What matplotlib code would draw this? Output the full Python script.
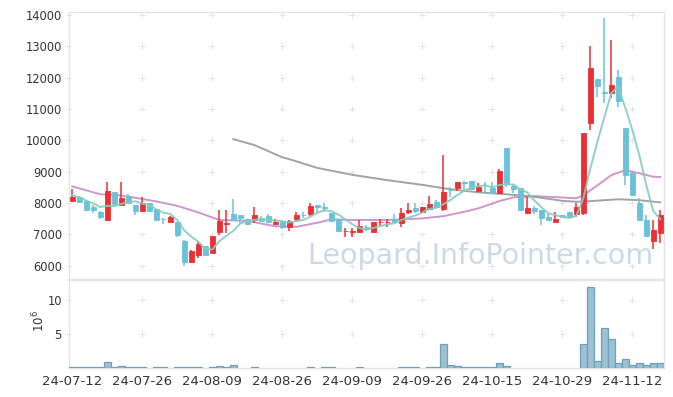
import numpy as np
import matplotlib
matplotlib.use('Agg')
import matplotlib.pyplot as plt

# daily candles (index = trading day)
opens = [8074, 8202, 8065, 7873, 7723, 7458, 8352, 7947, 8224, 7947,
         7755, 7990, 7809, 7500, 7404, 7385, 6788, 6128, 6351, 6619,
         6415, 7075, 7330, 7650, 7618, 7490, 7458, 7532, 7586, 7340,
         7417, 7245, 7480, 7630, 7650, 7947, 7870, 7672, 7490, 7100,
         7080, 7085, 7245, 7085, 7390, 7390, 7490, 7353, 7723, 7851,
         7723, 7819, 8033, 7809, 8430, 8489, 8660, 8693, 8393, 8585,
         8489, 8330, 9766, 8543, 8470, 7691, 7841, 7778, 7555, 7404,
         7609, 7724, 7650, 7691, 10563, 11958, 11550, 11501, 12012, 10385,
         8968, 7991, 7458, 6798, 7053]
highs = [8438, 8230, 8080, 7937, 7740, 8661, 8352, 8661, 8288, 7947,
         8183, 8000, 7809, 7522, 7596, 7385, 6830, 6511, 6766, 6619,
         6948, 7778, 7778, 8118, 7618, 7490, 7883, 7600, 7650, 7490,
         7417, 7450, 7703, 7703, 7990, 7947, 8010, 7672, 7490, 7213,
         7213, 7458, 7290, 7385, 7490, 7490, 7650, 7832, 8010, 7990,
         7873, 8224, 8100, 9533, 8521, 8671, 8712, 8693, 8630, 8680,
         8680, 9076, 9766, 8560, 8470, 8202, 7900, 7778, 7650, 7724,
         7609, 7724, 8010, 10225, 13011, 11958, 13900, 13202, 12245, 10385,
         9000, 8151, 7618, 7458, 7778]
lows = [8074, 8010, 7787, 7672, 7490, 7440, 7883, 7947, 7990, 7618,
        7720, 7755, 7468, 7330, 7404, 6926, 5991, 6128, 6255, 6351,
        6415, 6980, 7034, 7440, 7372, 7300, 7353, 7436, 7404, 7340,
        7171, 7117, 7420, 7532, 7586, 7672, 7703, 7427, 7117, 6926,
        6926, 7060, 7100, 7085, 7267, 7230, 7385, 7225, 7650, 7691,
        7680, 7778, 7873, 7755, 8202, 8393, 8416, 8457, 8393, 8310,
        8278, 8300, 8521, 8310, 7778, 7691, 7660, 7299, 7468, 7404,
        7555, 7564, 7564, 7618, 10330, 11374, 11182, 11342, 11074, 8575,
        8256, 7458, 6957, 6523, 6715]
closes = [8183, 8033, 7787, 7787, 7564, 8384, 7969, 8160, 8011, 7755,
          8001, 7755, 7468, 7480, 7564, 6989, 6128, 6469, 6693, 6351,
          6948, 7440, 7353, 7458, 7532, 7340, 7618, 7436, 7404, 7404,
          7245, 7417, 7628, 7610, 7905, 7883, 7855, 7427, 7117, 7117,
          7100, 7267, 7162, 7385, 7404, 7410, 7385, 7691, 7787, 7745,
          7873, 7969, 7873, 8352, 8410, 8671, 8640, 8457, 8500, 8565,
          8330, 9022, 8598, 8448, 7778, 7851, 7736, 7532, 7468, 7490,
          7555, 7564, 7883, 10225, 12299, 11744, 11520, 11766, 11265, 8894,
          8256, 7458, 6957, 7139, 7618]

# volume in millions of shares
volume_m = [0.12, 0.12, 0.12, 0.12, 0.12, 0.88, 0.12, 0.3, 0.12, 0.12,
            0.12, 0, 0.12, 0.12, 0, 0.12, 0.12, 0.12, 0.12, 0,
            0.12, 0.3, 0.12, 0.45, 0, 0, 0.12, 0, 0, 0,
            0, 0, 0, 0, 0.12, 0, 0.12, 0.12, 0, 0,
            0, 0.12, 0, 0, 0, 0, 0, 0.12, 0.12, 0.12,
            0, 0.12, 0.12, 3.53, 0.4, 0.25, 0.12, 0.12, 0.12, 0.12,
            0.12, 0.7, 0.25, 0, 0, 0, 0, 0, 0, 0,
            0, 0, 0, 3.53, 11.86, 1.03, 5.83, 4.22, 0.74, 1.27,
            0.44, 0.74, 0.44, 0.74, 0.74]

# moving averages as drawn
ma5 = [8256, 8183, 8074, 7990, 7871, 7911, 7898, 7973, 8018, 8056,
       7979, 7936, 7798, 7692, 7654, 7451, 7126, 6926, 6769, 6526,
       6518, 6780, 6957, 7110, 7346, 7425, 7460, 7477, 7466, 7440,
       7421, 7381, 7420, 7461, 7561, 7689, 7776, 7736, 7637, 7480,
       7323, 7206, 7153, 7206, 7264, 7326, 7349, 7455, 7535, 7604,
       7696, 7813, 7849, 7962, 8095, 8255, 8389, 8506, 8536, 8567,
       8498, 8575, 8603, 8593, 8435, 8339, 8082, 7869, 7673, 7615,
       7556, 7522, 7592, 8143, 9105, 9943, 10734, 11511, 11719, 11038,
       10340, 9528, 8566, 7741, 7486]
ma20_idx = [0, 4, 7, 10, 12, 15, 18, 21, 25, 29, 32, 35, 37, 40, 45, 50,
            53, 56, 58, 61, 63, 66, 69, 72, 73, 75, 77, 79, 81, 83, 84]
ma20_val = [8530, 8280, 8240, 8130, 8050, 7910, 7700, 7460, 7430, 7260,
            7240, 7370, 7480, 7460, 7460, 7510, 7580, 7720, 7830, 8060,
            8180, 8220, 8190, 8150, 8250, 8560, 8890, 9050, 8950, 8840, 8830]
ma_long_idx = [23, 26, 30, 31, 35, 40, 45, 50, 54, 58, 62, 66, 70, 72, 74, 78, 81, 84]
ma_long_val = [10040, 9850, 9460, 9400, 9120, 8900, 8730, 8580, 8440, 8340,
               8280, 8200, 8070, 8040, 8060, 8120, 8090, 8020]

tick_pos = [0, 10, 20, 30, 40, 50, 60, 70, 80]
tick_labels = ['24-07-12', '24-07-26', '24-08-09', '24-08-26', '24-09-09',
               '24-09-26', '24-10-15', '24-10-29', '24-11-12']

UP = '#eb3035'
DOWN = '#6ac2d9'
GRID = '#e4e4e4'
TXT = '#333333'

W, H = 673, 397
fig = plt.figure(figsize=(W / 100, H / 100), dpi=100)
ax = fig.add_axes([68.8 / W, 1 - 279 / H, 595 / W, 267.3 / H])
axv = fig.add_axes([68.8 / W, 1 - 368 / H, 595 / W, 88 / H], sharex=ax)

x = np.arange(len(closes))
o = np.array(opens, dtype=float)
c = np.array(closes, dtype=float)
up = c >= o
colors = np.where(up, UP, DOWN)

# wicks then bodies
ax.vlines(x, lows, highs, colors=colors, linewidth=1.1, zorder=3)
body = np.maximum(np.abs(c - o), 20)
ax.bar(x, body, bottom=np.minimum(o, c), width=0.72, color=colors,
       edgecolor=colors, linewidth=0.6, zorder=4)

# moving averages
ax.plot(x, ma5, color='#86cbbf', linewidth=1.4, alpha=0.9, zorder=5)
ax.plot(ma20_idx, ma20_val, color='#c98bc8', linewidth=1.4, alpha=0.9, zorder=2)
ax.plot(ma_long_idx, ma_long_val, color='#999999', linewidth=1.4, alpha=0.9, zorder=2)

# volume
vol = np.array(volume_m)
mask = vol > 0
axv.bar(x[mask], vol[mask], width=1.0, color='#9cc1d3', edgecolor='#6f9fb8',
        linewidth=0.9, zorder=3)

ax.set_xlim(-0.5, 84.5)
ax.set_ylim(5576, 14105)
axv.set_ylim(0, 12.94)

yt = list(range(6000, 14001, 1000))
ax.set_yticks(yt)
ax.set_yticklabels([str(v) for v in yt])
axv.set_yticks([5, 10])
axv.set_yticklabels(['5', '10'])
axv.set_xticks(tick_pos)
axv.set_xticklabels(tick_labels)

# grid drawn as small crosses at tick intersections
gx, gy = np.meshgrid(tick_pos[1:], yt)
ax.scatter(gx.ravel(), gy.ravel(), marker='+', s=18, color=GRID, linewidths=0.8, zorder=1)
gx, gy = np.meshgrid(tick_pos[1:], [5, 10])
axv.scatter(gx.ravel(), gy.ravel(), marker='+', s=18, color=GRID, linewidths=0.8, zorder=1)

for a in (ax, axv):
    for s in a.spines.values():
        s.set_color(GRID)
        s.set_linewidth(1.0)
    a.tick_params(axis='y', length=4, direction='inout', color=GRID,
                  labelsize=8.3, labelcolor=TXT, pad=3)
ax.tick_params(axis='x', length=0, labelbottom=False)
axv.tick_params(axis='x', length=0, labelsize=9.5, labelcolor=TXT, pad=5)

fig.text(39 / W, 1 - 321 / H, r'$10^{6}$', rotation=90, ha='center', va='center',
         fontsize=8.5, color=TXT)

# watermark
fig.text(653 / W, 1 - 264 / H, 'Leopard.InfoPointer.com', ha='right', va='baseline',
         fontsize=20.5, color='#b9cfdd', alpha=0.75, zorder=0)

fig.savefig('out.png', dpi=100)
